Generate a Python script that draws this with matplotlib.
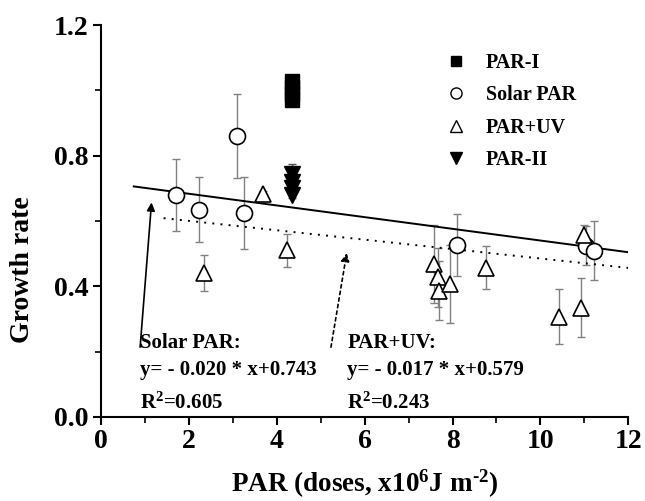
import matplotlib
matplotlib.use("Agg")
import matplotlib.pyplot as plt
from matplotlib.lines import Line2D
import numpy as np

plt.rcParams['font.family'] = ['Liberation Serif', 'DejaVu Serif']
plt.rcParams['font.weight'] = 'bold'
plt.rcParams['mathtext.fontset'] = 'custom'
plt.rcParams['mathtext.rm'] = 'Liberation Serif:bold'
plt.rcParams['mathtext.bf'] = 'Liberation Serif:bold'
plt.rcParams['mathtext.it'] = 'Liberation Serif:bold'
plt.rcParams['axes.unicode_minus'] = False

# Data
solar_x = [1.71, 2.22, 3.09, 3.26, 8.10, 11.03, 11.21]
solar_y = [0.68, 0.634, 0.86, 0.624, 0.526, 0.524, 0.509]
solar_err = [0.11, 0.10, 0.13, 0.11, 0.095, 0.06, 0.09]

uv_x = [2.33, 3.68, 4.23, 7.57, 7.66, 7.68, 7.95, 8.77, 10.43, 10.93, 11.0]
uv_y = [0.44, 0.683, 0.51, 0.468, 0.427, 0.386, 0.406, 0.457, 0.307, 0.334, 0.557]
uv_err = [0.055, 0.01, 0.05, 0.12, 0.09, 0.09, 0.12, 0.065, 0.085, 0.09, 0.03]

par1_x = [4.34, 4.34, 4.34, 4.34]
par1_y = [0.97, 0.99, 1.01, 1.03]
par1_err = [0.005, 0.005, 0.005, 0.005]

par2_x = [4.34, 4.34, 4.34, 4.34]
par2_y = [0.68, 0.70, 0.72, 0.745]
par2_err = [0.01, 0.01, 0.01, 0.03]

# fitted lines (as drawn)
solar_fit_x = [0.74, 12.0]
solar_fit_slope, solar_fit_int = -0.0179, 0.719
uv_fit_x = [1.42, 12.0]
uv_fit_slope, uv_fit_int = -0.0144, 0.629

fig = plt.figure(figsize=(6.45, 5.01), dpi=100)
ax = fig.add_axes([0.157, 0.168, 0.817, 0.782])

ecol = '#808080'
ax.errorbar(solar_x, solar_y, yerr=solar_err, fmt='none', ecolor=ecol, elinewidth=1, capsize=3, capthick=1, zorder=2)
ax.errorbar(uv_x, uv_y, yerr=uv_err, fmt='none', ecolor=ecol, elinewidth=1, capsize=3, capthick=1, zorder=2)
ax.errorbar(par2_x, par2_y, yerr=par2_err, fmt='none', ecolor='#555555', elinewidth=1, capsize=3, capthick=1, zorder=2)

lx = np.array(solar_fit_x)
ax.plot(lx, solar_fit_slope * lx + solar_fit_int, color='black', lw=1.4, zorder=3)
ux = np.array(uv_fit_x)
ax.plot(ux, uv_fit_slope * ux + uv_fit_int, color='black', lw=1.4, ls=(0, (1, 3.2)), zorder=3)

ax.plot(solar_x, solar_y, 'o', ms=11.5, mfc='white', mec='black', mew=1.2, ls='none', zorder=4)
ax.plot(uv_x, uv_y, '^', ms=12, mfc='white', mec='black', mew=1.2, ls='none', zorder=4)
ax.plot(par1_x, par1_y, 's', ms=9.5, mfc='black', mec='black', ls='none', zorder=5)
ax.plot(par2_x, par2_y, 'v', ms=12, mfc='black', mec='black', ls='none', zorder=5)

ax.set_xlim(0, 12)
ax.set_ylim(0, 1.2)
ax.set_xticks([0, 2, 4, 6, 8, 10, 12])
ax.set_yticks([0.0, 0.4, 0.8, 1.2])
ax.set_yticklabels(['0.0', '0.4', '0.8', '1.2'])
ax.set_xticks([1, 3, 5, 7, 9, 11], minor=True)
ax.set_yticks([0.2, 0.6, 1.0], minor=True)
for s in ['top', 'right']:
    ax.spines[s].set_visible(False)
for s in ['left', 'bottom']:
    ax.spines[s].set_linewidth(1.5)
ax.tick_params(which='major', direction='out', length=6, width=1.5, labelsize=20, pad=3)
ax.tick_params(which='minor', direction='out', length=4, width=1.2)
plt.setp(ax.get_xticklabels() + ax.get_yticklabels(), fontweight='bold')

ax.set_ylabel('Growth rate', fontsize=20, fontweight='bold')
ax.yaxis.set_label_coords(-0.125, 0.375)
ax.set_xlabel(r'PAR (doses, x10$^{6}$J m$^{\text{-}2}$)', fontsize=19.5, fontweight='bold', labelpad=10)

handles = [
    Line2D([], [], marker='s', ls='none', mfc='black', mec='black', ms=7),
    Line2D([], [], marker='o', ls='none', mfc='white', mec='black', ms=8, mew=1),
    Line2D([], [], marker='^', ls='none', mfc='white', mec='black', ms=8, mew=1),
    Line2D([], [], marker='v', ls='none', mfc='black', mec='black', ms=9),
]
ax.legend(handles, ['PAR-I', 'Solar PAR', 'PAR+UV', 'PAR-II'], loc='upper left',
          bbox_to_anchor=(0.60, 0.975), frameon=False, prop={'size': 14.5, 'weight': 'bold'},
          labelspacing=0.62, handletextpad=0.5)

tk = dict(fontsize=15, fontweight='bold')
ax.text(0.89, 0.212, 'Solar PAR:', **tk)
ax.text(0.89, 0.129, 'y= - 0.020 * x+0.743', **tk)
ax.text(0.89, 0.024, r'R$^{2}$=0.605', **tk)
ax.text(5.6, 0.212, 'PAR+UV:', **tk)
ax.text(5.6, 0.129, 'y= - 0.017 * x+0.579', **tk)
ax.text(5.6, 0.024, r'R$^{2}$=0.243', **tk)

ax.annotate('', xy=(1.15, 0.665), xytext=(0.88, 0.205),
            arrowprops=dict(arrowstyle='-|>', color='black', lw=1.2, mutation_scale=12))
ax.annotate('', xy=(5.6, 0.51), xytext=(5.22, 0.205),
            arrowprops=dict(arrowstyle='-|>', color='black', lw=1.2, ls=(0, (2, 2)), mutation_scale=12))

fig.savefig('out.png', dpi=100)
